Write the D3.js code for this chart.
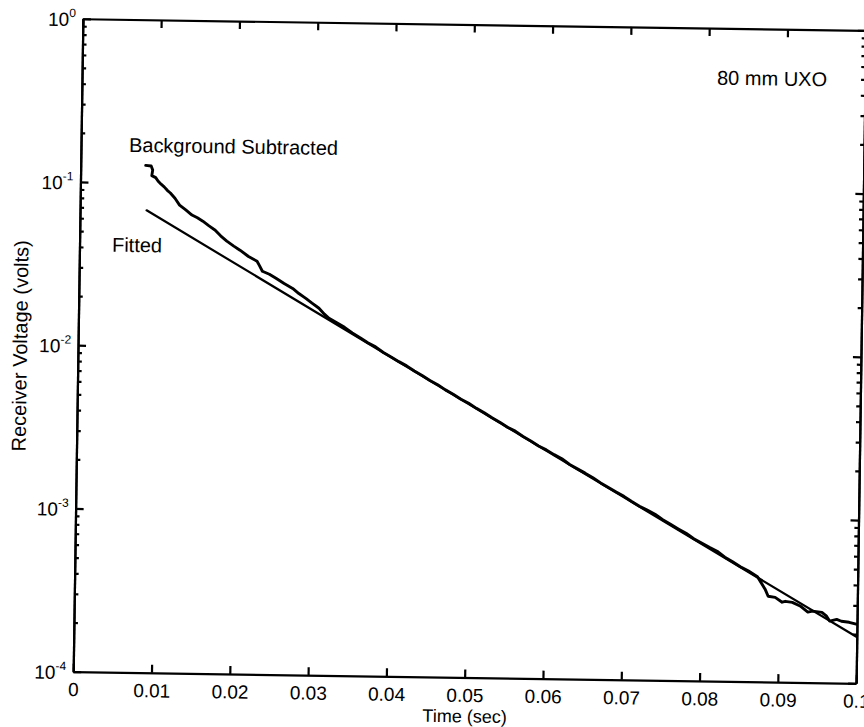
<!DOCTYPE html>
<html>
<head>
<meta charset="utf-8">
<script src="https://cdn.jsdelivr.net/npm/d3@7"></script>
<style>
  body { margin: 0; background: #fff; }
  svg { font-family: "Liberation Sans", Arial, Helvetica, sans-serif; }
  .axis path, .axis line { stroke: #000; stroke-width: 2.2; }
  .axis text { fill: #000; }
  .curve { fill: none; stroke: #000; stroke-linejoin: round; stroke-linecap: round; }
</style>
</head>
<body>
<svg id="chart" width="864" height="727"></svg>
<script>
// background subtracted receiver voltage (time in sec, volts)
const bgTime = [
  0.0083, 0.0090, 0.0092, 0.0091, 0.0096, 0.0099, 0.0103, 0.0107, 0.0111, 0.0115, 0.0121, 0.0127,
  0.0135, 0.0143, 0.0150, 0.0157, 0.0165, 0.0173, 0.0180, 0.0188, 0.0197, 0.0205,
  0.0216, 0.0227, 0.0230, 0.0234, 0.0243, 0.0252, 0.0262, 0.0273, 0.0281, 0.0290,
  0.0298, 0.0307, 0.0314, 0.0320, 0.0330, 0.0340, 0.0350, 0.0360, 0.0370, 0.0380,
  0.0390, 0.0400, 0.0410, 0.0420, 0.0430, 0.0440, 0.0450, 0.0460, 0.0470, 0.0480,
  0.0490, 0.0500, 0.0510, 0.0520, 0.0530, 0.0540, 0.0550, 0.0560, 0.0570, 0.0580,
  0.0590, 0.0600, 0.0610, 0.0620, 0.0630, 0.0640, 0.0650, 0.0660, 0.0670, 0.0680,
  0.0690, 0.0700, 0.0710, 0.0720, 0.0730, 0.0740, 0.0750, 0.0760, 0.0770, 0.0780,
  0.0790, 0.0800, 0.0810, 0.0820, 0.0830, 0.0840, 0.0850, 0.0860, 0.0872, 0.0882,
  0.0886, 0.0895, 0.0904, 0.0908, 0.0917, 0.0927, 0.0937, 0.0943, 0.0955, 0.0961,
  0.0965, 0.0974, 0.0980, 0.0990, 0.0999
];
const bgVolt = [
  0.128, 0.127, 0.120, 0.111, 0.108, 0.103, 0.0985, 0.095, 0.0905, 0.0872, 0.081, 0.0737,
  0.069, 0.0642, 0.0618, 0.0590, 0.0553, 0.0521, 0.0482, 0.0448, 0.0418, 0.0395,
  0.0362, 0.0339, 0.0320, 0.0295, 0.0283, 0.0267, 0.0249, 0.0233, 0.0217, 0.0203,
  0.0190, 0.0177, 0.0163, 0.0154, 0.0145, 0.0136, 0.0126, 0.0118, 0.0110, 0.0104,
  0.00962, 0.00905, 0.00848, 0.00800, 0.00745, 0.00700, 0.00655, 0.00618, 0.00575, 0.00542,
  0.00506, 0.00478, 0.00446, 0.00420, 0.00392, 0.00369, 0.00344, 0.00326, 0.00303, 0.00285,
  0.00266, 0.00252, 0.00236, 0.00223, 0.00206, 0.00194, 0.00183, 0.00172, 0.00160, 0.00150,
  0.00141, 0.00133, 0.00124, 0.00116, 0.00110, 0.00104, 0.000965, 0.000905, 0.000850, 0.000800,
  0.000742, 0.000700, 0.000660, 0.000625, 0.000576, 0.000540, 0.000505, 0.000478, 0.000440, 0.000370,
  0.000335, 0.000330, 0.000309, 0.000313, 0.000309, 0.000294, 0.000270, 0.000274, 0.000270, 0.000256,
  0.000239, 0.000245, 0.000239, 0.000236, 0.000230
];

// fitted exponential decay
const fitTime = [0.0085, 0.04, 0.07, 0.1];
const fitVolt = [0.068, 0.0090, 0.00131, 0.000192];

const xTicks = [0, 0.01, 0.02, 0.03, 0.04, 0.05, 0.06, 0.07, 0.08, 0.09, 0.1];
const xTickLabels = ["0", "0.01", "0.02", "0.03", "0.04", "0.05", "0.06", "0.07", "0.08", "0.09", "0.1"];
const yTicks = [1e-4, 1e-3, 1e-2, 1e-1, 1];
const yTickExponents = ["-4", "-3", "-2", "-1", "0"];

var svg = d3.select("#chart"),
  margin = { top: 24.5, left: 78 },
  width = 783,
  height = 653;

var x = d3.scaleLinear().domain([0, 0.1]).range([0, width]),
  y = d3.scaleLog().domain([1e-4, 1]).range([height, 0]);

// the scanned figure is slightly tilted
var g = svg
  .append("g")
  .attr("transform", "rotate(0.85,469.5,351) translate(" + margin.left + "," + margin.top + ")");

// minor log ticks, left and right
var minor = y.ticks().filter((v) => yTicks.indexOf(v) < 0);

g.append("g")
  .attr("class", "axis")
  .call(d3.axisLeft(y).tickValues(minor).tickSize(-4).tickSizeOuter(0).tickFormat(""));
g.append("g")
  .attr("class", "axis")
  .attr("transform", "translate(" + width + ",0)")
  .call(d3.axisRight(y).tickValues(minor).tickSize(-4).tickSizeOuter(0).tickFormat(""));
g.append("g")
  .attr("class", "axis")
  .attr("transform", "translate(" + width + ",0)")
  .call(d3.axisRight(y).tickValues(yTicks).tickSize(-8).tickSizeOuter(0).tickFormat(""));

// left axis with 10^n labels
var yAxis = g
  .append("g")
  .attr("class", "axis")
  .call(d3.axisLeft(y).tickValues(yTicks).tickSize(-8).tickSizeOuter(0).tickFormat(""));

yAxis.selectAll(".tick text").each(function (d, i) {
  var t = d3.select(this)
    .attr("x", -7)
    .attr("y", 7)
    .attr("dy", null)
    .attr("text-anchor", "end");
  t.append("tspan").attr("font-size", 19).text("10");
  t.append("tspan").attr("font-size", 12).attr("dy", -9).text(yTickExponents[i]);
});

// top and bottom
g.append("g")
  .attr("class", "axis")
  .call(d3.axisTop(x).tickValues(xTicks).tickSize(-8).tickSizeOuter(0).tickFormat(""));

g.append("g")
  .attr("class", "axis")
  .attr("transform", "translate(0," + height + ")")
  .call(
    d3.axisBottom(x)
      .tickValues(xTicks)
      .tickSize(-8)
      .tickSizeOuter(0)
      .tickPadding(11)
      .tickFormat((d, i) => xTickLabels[i])
  )
  .selectAll("text")
  .attr("font-size", 19);

var line = d3
  .line()
  .x((d) => x(d[0]))
  .y((d) => y(d[1]));

g.append("path")
  .attr("class", "curve")
  .attr("stroke-width", 2.2)
  .attr("d", line(d3.zip(fitTime, fitVolt)));

g.append("path")
  .attr("class", "curve")
  .attr("stroke-width", 2.9)
  .attr("d", line(d3.zip(bgTime, bgVolt)));

// labels
g.append("text").attr("x", 48).attr("y", 132.5).attr("font-size", 20).text("Background Subtracted");
g.append("text").attr("x", 32.5).attr("y", 232.5).attr("font-size", 20).text("Fitted");
g.append("text").attr("x", 635).attr("y", 56.5).attr("font-size", 20).text("80 mm UXO");

g.append("text")
  .attr("x", 392)
  .attr("y", 698)
  .attr("text-anchor", "middle")
  .attr("font-size", 18)
  .text("Time (sec)");

g.append("text")
  .attr("transform", "translate(-51,328) rotate(-90)")
  .attr("text-anchor", "middle")
  .attr("font-size", 20)
  .text("Receiver Voltage (volts)");
</script>
</body>
</html>
